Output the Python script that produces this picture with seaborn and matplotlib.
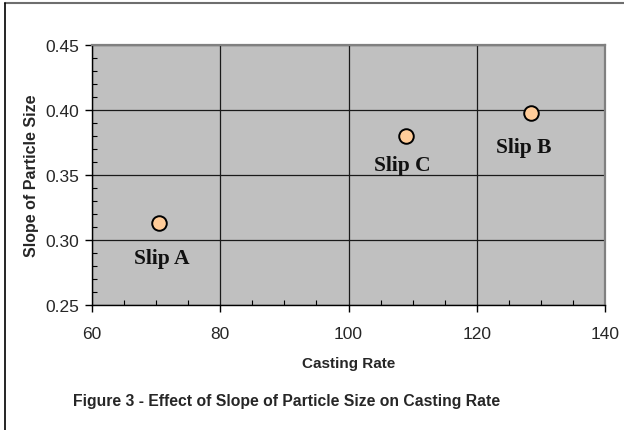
import matplotlib
matplotlib.use("Agg")
import matplotlib.pyplot as plt
import seaborn as sns
import pandas as pd
from matplotlib.lines import Line2D
from matplotlib.ticker import MultipleLocator

# Data
slips = ["Slip A", "Slip C", "Slip B"]
casting_rate = [70.5, 108.9, 128.5]
slope_particle = [0.313, 0.380, 0.398]
# label offsets (points) relative to each point
label_dx = [1.5, -2.0, -5.5]
label_dy = [-25.0, -21.0, -25.0]

x_ticks = [60, 80, 100, 120, 140]
y_ticks = [0.25, 0.30, 0.35, 0.40, 0.45]

df = pd.DataFrame({"slip": slips, "rate": casting_rate, "slope": slope_particle})

sns.set_style("white")
plt.rcParams["font.family"] = ["Liberation Sans", "DejaVu Sans"]

fig = plt.figure(figsize=(6.24, 4.31), dpi=100)
ax = fig.add_axes([92 / 624, 1 - 306 / 431, (605 - 92) / 624, (306 - 46) / 431])
ax.set_facecolor("#C0C0C0")

sns.scatterplot(data=df, x="rate", y="slope", ax=ax, s=110, color="#FFCC99",
                edgecolor="black", linewidth=1.4, zorder=5, legend=False)

for name, xv, yv, dx, dy in zip(slips, casting_rate, slope_particle, label_dx, label_dy):
    ax.annotate(name, (xv, yv), xytext=(dx, dy), textcoords="offset points",
                ha="center", va="center", fontsize=15.5, fontweight="bold",
                family="Liberation Serif", color="#111111", zorder=6)

ax.set_xlim(60, 140)
ax.set_ylim(0.25, 0.45)
ax.set_xticks(x_ticks)
ax.set_yticks(y_ticks)
ax.set_yticklabels([f"{v:.2f}" for v in y_ticks])
ax.xaxis.set_minor_locator(MultipleLocator(5))
ax.yaxis.set_minor_locator(MultipleLocator(0.01))
ax.tick_params(which="major", direction="out", length=5, width=1, color="black",
               labelsize=12.5, bottom=True, left=True)
ax.tick_params(axis="x", which="major", pad=10)
ax.tick_params(axis="y", which="major", pad=4)
ax.tick_params(which="minor", direction="in", length=3.5, width=0.8, color="black",
               bottom=True, left=True)
ax.grid(True, which="major", color="#1a1a1a", linewidth=0.9)
ax.set_axisbelow(True)

for side in ["left", "bottom"]:
    ax.spines[side].set_color("black")
    ax.spines[side].set_linewidth(1.0)
for side in ["top", "right"]:
    ax.spines[side].set_color("#808080")
    ax.spines[side].set_linewidth(1.6)

ax.set_xlabel("Casting Rate", fontsize=11, fontweight="bold", labelpad=11)
ax.set_ylabel("Slope of Particle Size", fontsize=11.5, fontweight="bold", labelpad=5)

fig.text(73 / 624, 1 - 402 / 431, "Figure 3 - Effect of Slope of Particle Size on Casting Rate",
         fontsize=11.3, fontweight="bold", ha="left", va="center")

# figure frame (top and left visible)
fig.add_artist(Line2D([5 / 624, 1.0], [1 - 4 / 431, 1 - 4 / 431], transform=fig.transFigure,
                      color="#6e6e6e", linewidth=1.5))
fig.add_artist(Line2D([5 / 624, 5 / 624], [0.0, 1 - 4 / 431], transform=fig.transFigure,
                      color="black", linewidth=1.2))

fig.savefig("out.png", dpi=100)
